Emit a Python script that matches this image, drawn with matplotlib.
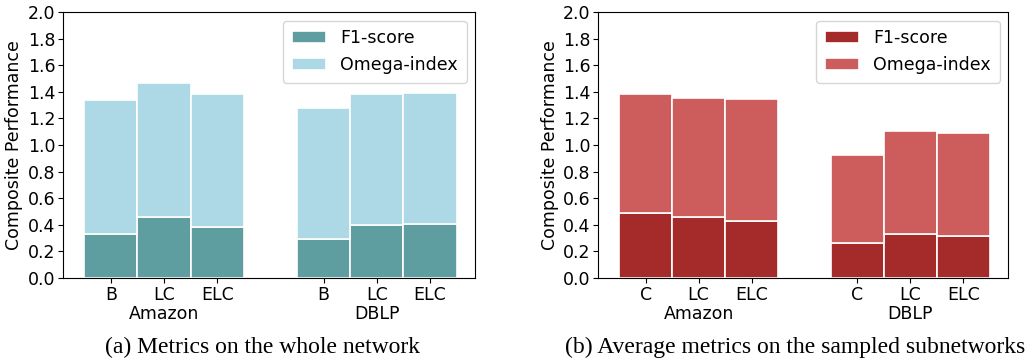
import matplotlib
matplotlib.use("Agg")
import matplotlib.pyplot as plt
import numpy as np

datasets = ["Amazon", "DBLP"]
methods_a = ["B", "LC", "ELC"]
methods_b = ["C", "LC", "ELC"]

f1_a = [0.334, 0.460, 0.382, 0.294, 0.402, 0.407]
total_a = [1.339, 1.465, 1.384, 1.276, 1.382, 1.392]
omega_a = [t - f for t, f in zip(total_a, f1_a)]

f1_b = [0.485, 0.460, 0.427, 0.264, 0.334, 0.317]
total_b = [1.382, 1.352, 1.347, 0.927, 1.106, 1.088]
omega_b = [t - f for t, f in zip(total_b, f1_b)]

captions = ["(a) Metrics on the whole network",
            "(b) Average metrics on the sampled subnetworks"]

plt.rcParams['font.family'] = ['DejaVu Sans']
fig = plt.figure(figsize=(10.31, 3.62), dpi=100)

positions = [0, 1, 2, 4, 5, 6]
group_centers = [1, 5]
FS = 12.5


def draw(ax, f1, omega, methods, c1, c2):
    ax.bar(positions, f1, width=1.0, color=c1, edgecolor='white',
           linewidth=1.2, label='F1-score')
    ax.bar(positions, omega, width=1.0, bottom=f1, color=c2,
           edgecolor='white', linewidth=1.2, label='Omega-index')
    ax.set_ylim(0, 2.0)
    ax.set_yticks(np.arange(0, 2.01, 0.2))
    ax.set_yticklabels([f"{v:.1f}" for v in np.arange(0, 2.01, 0.2)])
    ax.set_xticks(positions)
    ax.set_xticklabels(methods * 2)
    ax.set_xlim(-0.9, 6.85)
    ax.tick_params(labelsize=FS, pad=2)
    ax.set_ylabel("Composite Performance", fontsize=FS, labelpad=3)
    for c, name in zip(group_centers, datasets):
        ax.text(c, -0.10, name, transform=ax.get_xaxis_transform(),
                ha='center', va='top', fontsize=FS)
    ax.legend(loc='upper right', fontsize=FS, handlelength=2.0,
              borderpad=0.5, labelspacing=0.5)


ax1 = fig.add_axes([0.061, 0.232, 0.400, 0.735])
draw(ax1, f1_a, omega_a, methods_a, '#5F9EA0', '#ADD8E6')
ax2 = fig.add_axes([0.580, 0.232, 0.398, 0.735])
draw(ax2, f1_b, omega_b, methods_b, '#A52A2A', '#CD5C5C')

fig.text(0.255, 0.039, captions[0], ha='center', va='center',
         fontsize=17, family=['Liberation Serif'])
fig.text(0.771, 0.039, captions[1], ha='center', va='center',
         fontsize=17, family=['Liberation Serif'])

fig.savefig("out.png", dpi=100)
